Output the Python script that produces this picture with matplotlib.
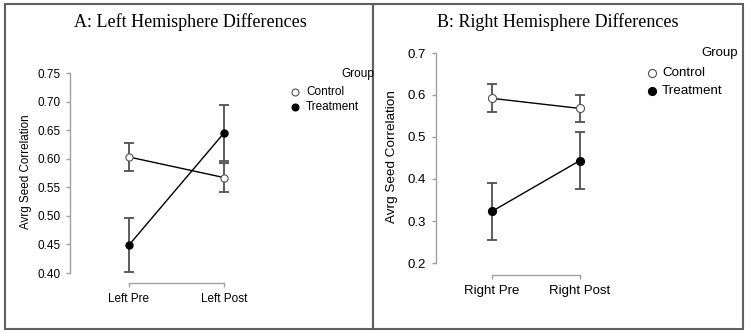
import matplotlib
matplotlib.use("Agg")
import matplotlib.pyplot as plt
from matplotlib.lines import Line2D
from matplotlib.patches import Rectangle

# --- datos ---------------------------------------------------------------
groups = ["Control", "Treatment"]

left_cats = ["Left Pre", "Left Post"]
left_mean = {"Control": [0.603, 0.567], "Treatment": [0.449, 0.645]}
left_err = {"Control": [0.025, 0.025], "Treatment": [0.048, 0.049]}
left_yticks = [0.40, 0.45, 0.50, 0.55, 0.60, 0.65, 0.70, 0.75]

right_cats = ["Right Pre", "Right Post"]
right_mean = {"Control": [0.592, 0.568], "Treatment": [0.323, 0.444]}
right_err = {"Control": [0.033, 0.033], "Treatment": [0.068, 0.068]}
right_yticks = [0.2, 0.3, 0.4, 0.5, 0.6, 0.7]

W, H = 750, 333
fig = plt.figure(figsize=(W / 100, H / 100), dpi=100)
plt.rcParams['font.family'] = ['Liberation Sans', 'DejaVu Sans']

def fx(px):
    return px / W

def fy(py):
    return 1 - py / H

spine_col = '#a0a0a0'
err_col = '#505050'

def panel(cats, mean, err, yticks, yfmt, box, xpix, ypix, fs, msize):
    # box = (left, top, right, bottom) en pixeles; xpix = px de cada categoria
    # ypix = (valor_bajo, px_bajo, valor_alto, px_alto)
    l, t, r, b = box
    ax = fig.add_axes([fx(l), fy(b), fx(r - l), (b - t) / H])
    upx = (xpix[1] - xpix[0])
    ax.set_xlim((l - xpix[0]) / upx, (r - xpix[0]) / upx)
    v0, p0, v1, p1 = ypix
    vpp = (v1 - v0) / (p0 - p1)
    ax.set_ylim(v0 - (b - p0) * vpp, v1 + (p1 - t) * vpp)
    x = list(range(len(cats)))
    for g in groups:
        face = 'white' if g == 'Control' else 'black'
        ax.errorbar(x, mean[g], yerr=err[g], fmt='none', ecolor=err_col,
                    elinewidth=1.3, capsize=3.3, capthick=1.3, clip_on=False, zorder=2)
        ax.plot(x, mean[g], color='black', lw=1.0, marker='o', ms=msize,
                mfc=face, mec='#505050' if g == 'Control' else 'black', mew=0.8,
                clip_on=False, zorder=3)
    for s in ['top', 'right']:
        ax.spines[s].set_visible(False)
    ax.spines['left'].set_bounds(yticks[0], yticks[-1])
    ax.spines['bottom'].set_bounds(0, len(cats) - 1)
    for s in ['left', 'bottom']:
        ax.spines[s].set_color(spine_col)
        ax.spines[s].set_linewidth(1.0)
    ax.set_yticks(yticks)
    ax.set_yticklabels([yfmt.format(v) for v in yticks])
    ax.set_xticks(x)
    ax.set_xticklabels(cats)
    ax.tick_params(axis='both', colors=spine_col, labelcolor='black', labelsize=fs,
                   length=3, width=1.0)
    ax.tick_params(axis='y', pad=4)
    ax.tick_params(axis='x', pad=4.5)
    ax.patch.set_visible(False)
    return ax

# --- Panel A ---------------------------------------------------------------
panel(left_cats, left_mean, left_err, left_yticks, "{:.2f}",
      (70, 73, 260, 283), (129, 224), (0.40, 273, 0.75, 73), 8.5, 5.2)
fig.text(fx(190), fy(22), "A: Left Hemisphere Differences", family='Liberation Serif',
         fontsize=13, ha='center', va='center')
fig.text(fx(26), fy(172), "Avrg Seed Correlation", rotation=90, fontsize=8.4,
         ha='center', va='center')
fig.text(fx(374), fy(74), "Group", fontsize=8.5, ha='right', va='center')
for g, py in zip(groups, [92, 107]):
    face = 'white' if g == 'Control' else 'black'
    fig.add_artist(Line2D([fx(295)], [fy(py)], marker='o', ms=5, mfc=face,
                          mec='#505050' if g == 'Control' else 'black', mew=0.8,
                          transform=fig.transFigure))
    fig.text(fx(306), fy(py), g, fontsize=8.5, ha='left', va='center')

# --- Panel B ---------------------------------------------------------------
panel(right_cats, right_mean, right_err, right_yticks, "{:.1f}",
      (436, 53, 630, 275), (492, 580), (0.2, 263, 0.7, 53), 9.5, 5.8)
fig.text(fx(558), fy(22), "B: Right Hemisphere Differences", family='Liberation Serif',
         fontsize=13, ha='center', va='center')
fig.text(fx(392), fy(157), "Avrg Seed Correlation", rotation=90, fontsize=9.7,
         ha='center', va='center')
fig.text(fx(738), fy(53), "Group", fontsize=9.5, ha='right', va='center')
for g, py in zip(groups, [73, 91]):
    face = 'white' if g == 'Control' else 'black'
    fig.add_artist(Line2D([fx(652)], [fy(py)], marker='o', ms=5.8, mfc=face,
                          mec='#505050' if g == 'Control' else 'black', mew=0.8,
                          transform=fig.transFigure))
    fig.text(fx(662), fy(py), g, fontsize=9.6, ha='left', va='center')

# --- marcos de los paneles ---------------------------------------------------
for (l, r) in [(5, 373), (373, 743)]:
    fig.add_artist(Rectangle((fx(l), fy(329)), fx(r - l), (329 - 4) / H,
                             transform=fig.transFigure, fill=False,
                             edgecolor='#606060', lw=1.5))

fig.savefig("out.png", dpi=100)
